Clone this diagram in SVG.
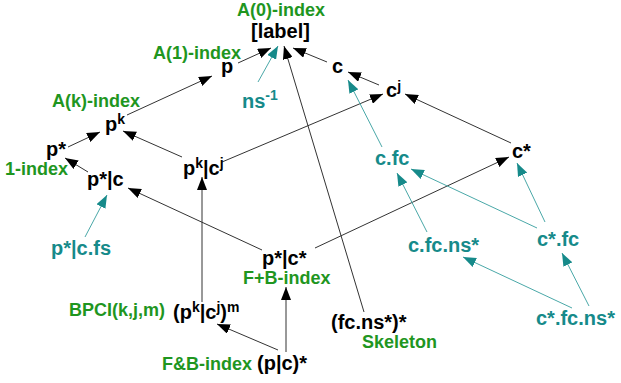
<svg xmlns="http://www.w3.org/2000/svg" width="621" height="383" viewBox="0 0 621 383">
<style>
text{font-family:"Liberation Sans",Arial,sans-serif;font-weight:bold}
.k{fill:#000;font-size:20px}
.g{fill:#1f961f;font-size:18px}
.t{fill:#168a8a;font-size:20px}
.s{font-size:14px}
.lk{stroke:#333;stroke-width:1;fill:none;marker-end:url(#ak)}
.lt{stroke:#4aa8a8;stroke-width:1;fill:none;marker-end:url(#at)}
</style>
<defs>
<marker id="ak" markerUnits="userSpaceOnUse" markerWidth="14" markerHeight="10" refX="13" refY="5" orient="auto"><path d="M0,0 L13,5 L0,10 z" fill="#000"/></marker>
<marker id="at" markerUnits="userSpaceOnUse" markerWidth="14" markerHeight="10" refX="13" refY="5" orient="auto"><path d="M0,0 L13,5 L0,10 z" fill="#168a8a"/></marker>
</defs>
<rect width="621" height="383" fill="#fff"/>
<g id="connectors">
<line class="lk" x1="238" y1="63" x2="271" y2="48"/>
<line class="lk" x1="127" y1="115" x2="212" y2="76"/>
<line class="lk" x1="68" y1="147" x2="100" y2="132"/>
<line class="lk" x1="88" y1="172" x2="65" y2="158"/>
<line class="lk" x1="182" y1="157" x2="123" y2="131"/>
<line class="lk" x1="327" y1="62" x2="293" y2="48"/>
<line class="lk" x1="379" y1="85" x2="348" y2="72"/>
<line class="lk" x1="511" y1="143" x2="405" y2="94"/>
<line class="lk" x1="222" y1="162" x2="383" y2="94"/>
<line class="lk" x1="364" y1="312" x2="284" y2="46"/>
<line class="lk" x1="262" y1="250" x2="128" y2="188"/>
<line class="lk" x1="315" y1="248" x2="509" y2="157"/>
<line class="lk" x1="202" y1="302" x2="202" y2="177"/>
<line class="lk" x1="278" y1="350" x2="217" y2="324"/>
<line class="lk" x1="286" y1="352" x2="286" y2="287"/>
<line class="lt" x1="258" y1="82" x2="278" y2="46"/>
<line class="lt" x1="382" y1="147" x2="348" y2="80"/>
<line class="lt" x1="427" y1="232" x2="397" y2="173"/>
<line class="lt" x1="537" y1="228" x2="411" y2="169"/>
<line class="lt" x1="545" y1="222" x2="517" y2="163"/>
<line class="lt" x1="572" y1="308" x2="463" y2="257"/>
<line class="lt" x1="589" y1="306" x2="562" y2="253"/>
<line class="lt" x1="85" y1="237" x2="107" y2="195"/>
</g>
<g id="label"><text class="g" x="237" y="16">A(0)-index</text><text class="k" x="251" y="38">[label]</text></g>
<g id="p"><text class="g" x="153" y="59">A(1)-index</text><text class="k" x="221" y="73">p</text></g>
<g id="pk"><text class="g" x="52" y="107">A(k)-index</text><text class="k" x="105" y="131">p<tspan class="s" dy="-7">k</tspan></text></g>
<g id="pstar"><text class="k" x="46" y="156">p*</text><text class="g" x="5" y="175">1-index</text></g>
<g id="pstarc"><text class="k" x="87" y="186">p*|c</text></g>
<g id="pkcj"><text class="k" x="183" y="175">p<tspan class="s" dy="-7">k</tspan><tspan dy="7">|c</tspan><tspan class="s" dy="-7">j</tspan></text></g>
<g id="c"><text class="k" x="332" y="73">c</text></g>
<g id="cj"><text class="k" x="386" y="97">c<tspan class="s" dy="-6">j</tspan></text></g>
<g id="cstar"><text class="k" x="512" y="158">c*</text></g>
<g id="ns"><text class="t" x="242" y="108">ns<tspan class="s" dy="-8">-1</tspan></text></g>
<g id="cfc"><text class="t" x="375" y="165">c.fc</text></g>
<g id="cfcns"><text class="t" x="408" y="252">c.fc.ns*</text></g>
<g id="cstarfc"><text class="t" x="537" y="246">c*.fc</text></g>
<g id="cstarfcns"><text class="t" x="536" y="325">c*.fc.ns*</text></g>
<g id="pstarcfs"><text class="t" x="51" y="255">p*|c.fs</text></g>
<g id="pstarcstar"><text class="k" x="262" y="265">p*|c*</text><text class="g" x="243" y="284">F+B-index</text></g>
<g id="bpci"><text class="g" x="69" y="316">BPCI(k,j,m)</text><text class="k" x="173" y="319">(p<tspan class="s" dy="-7">k</tspan><tspan dy="7">|c</tspan><tspan class="s" dy="-7">j</tspan><tspan dy="7">)</tspan><tspan class="s" dy="-7">m</tspan></text></g>
<g id="fb"><text class="g" x="162" y="370">F&amp;B-index</text><text class="k" x="257" y="370">(p|c)*</text></g>
<g id="skeleton"><text class="k" x="331" y="329">(fc.ns*)*</text><text class="g" x="362" y="348">Skeleton</text></g>
</svg>
